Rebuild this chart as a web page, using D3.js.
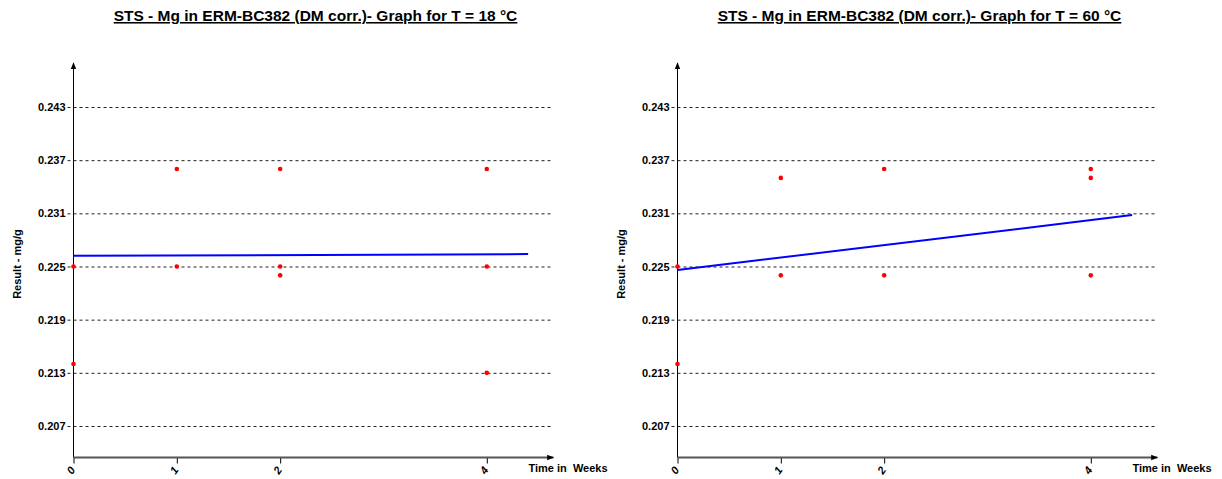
<!DOCTYPE html>
<html>

<head>
  <title>STS - Mg in ERM-BC382</title>
  <script src="https://cdn.jsdelivr.net/npm/d3@7"></script>
  <style>
    body { margin: 0; background: #fff; }
    text { font-family: Arial, 'Liberation Sans', sans-serif; }
  </style>
</head>

<body>
  <svg width="1222" height="479" id="mainsvg"></svg>

  <script>
    // data
    const weeks = [0, 1, 2, 4];
    const yTicks = [0.207, 0.213, 0.219, 0.225, 0.231, 0.237, 0.243];
    const temps = [18, 60];

    // T = 18 °C
    const t18Weeks = [0, 0, 1, 1, 2, 2, 2, 4, 4, 4];
    const t18Result = [0.225, 0.214, 0.236, 0.225, 0.236, 0.225, 0.224, 0.236, 0.225, 0.213];
    const t18FitWeeks = [0, 4.4];
    const t18FitResult = [0.2262, 0.2264];

    // T = 60 °C
    const t60Weeks = [0, 0, 1, 1, 2, 2, 4, 4, 4];
    const t60Result = [0.225, 0.214, 0.235, 0.224, 0.236, 0.224, 0.236, 0.235, 0.224];
    const t60FitWeeks = [0, 4.4];
    const t60FitResult = [0.2246, 0.2308];

    const svg = d3.select('#mainsvg');
    const panelWidth = 604;
    const originX = 73.5;   // where the y axis sits inside a panel
    const axisTop = 63;
    const axisBottomY = 457.5;

    const xScale = d3.scaleLinear().domain([0, 4]).range([0, 413.3]);
    const yScale = d3.scaleLinear().domain([0.207, 0.243]).range([426, 107]);
    const gridWidth = 478;
    const xAxisLen = 480;

    // arrow heads for the axes
    const defs = svg.append('defs');
    defs.append('marker').attr('id', 'arrow')
      .attr('viewBox', '0 0 10 10').attr('refX', 9).attr('refY', 5)
      .attr('markerWidth', 7).attr('markerHeight', 7).attr('orient', 'auto-start-reverse')
      .attr('markerUnits', 'userSpaceOnUse')
      .append('path').attr('d', 'M0,1 L10,5 L0,9 Z').attr('fill', '#000');

    function drawPanel(i, temp, pts, fit) {
      const g = svg.append('g')
        .attr('transform', `translate(${i * panelWidth + originX}, 0)`);

      // title, underlined
      g.append('text')
        .text(`STS - Mg in ERM-BC382 (DM corr.)- Graph for T = ${temp} °C`)
        .attr('x', 242).attr('y', 21)
        .attr('text-anchor', 'middle')
        .attr('font-size', '15.5px').attr('font-weight', 'bold')
        .attr('text-decoration', 'underline');

      // y axis with dashed grid lines
      const yAxis = d3.axisLeft(yScale).tickValues(yTicks)
        .tickSize(-gridWidth).tickPadding(8).tickFormat(d3.format('.3f'));
      const yg = g.append('g').call(yAxis);
      yg.select('.domain').remove();
      yg.selectAll('.tick line')
        .attr('x1', -6)
        .attr('stroke', '#222').attr('stroke-dasharray', '3,3');
      yg.selectAll('.tick text')
        .attr('font-size', '11px').attr('font-weight', 'bold').attr('fill', '#000');

      g.append('line')
        .attr('x1', 0).attr('y1', axisBottomY).attr('x2', 0).attr('y2', axisTop)
        .attr('stroke', '#000').attr('stroke-width', 1)
        .attr('marker-end', 'url(#arrow)');

      // y axis title
      g.append('text').text('Result - mg/g')
        .attr('transform', `translate(${-53}, 264) rotate(-90)`)
        .attr('text-anchor', 'middle')
        .attr('font-size', '11px').attr('font-weight', 'bold');

      // x axis
      const xAxis = d3.axisBottom(xScale).tickValues(weeks).tickSize(6).tickFormat(d3.format('d'));
      const xg = g.append('g').attr('transform', `translate(0, ${axisBottomY})`).call(xAxis);
      xg.select('.domain').remove();
      xg.selectAll('.tick line').attr('stroke', '#000');
      xg.selectAll('.tick text')
        .attr('y', 0).attr('dy', 0)
        .attr('transform', 'translate(0, 15) rotate(-55)')
        .attr('font-size', '11px').attr('font-weight', 'bold').attr('font-style', 'italic')
        .attr('fill', '#000');

      g.append('line')
        .attr('x1', 0).attr('y1', axisBottomY).attr('x2', xAxisLen).attr('y2', axisBottomY)
        .attr('stroke', '#555').attr('stroke-width', 2)
        .attr('marker-end', 'url(#arrow)');

      g.append('text').text('Time in  Weeks')
        .attr('x', 455).attr('y', 472)
        .attr('font-size', '11px').attr('font-weight', 'bold')
        .attr('xml:space', 'preserve');

      // fitted line
      const line = d3.line().x(d => xScale(d[0])).y(d => yScale(d[1]));
      g.append('path').datum(fit)
        .attr('d', line)
        .attr('fill', 'none').attr('stroke', '#0000ff').attr('stroke-width', 2);

      // measured points
      g.selectAll('.pt').data(pts).enter().append('circle')
        .attr('class', 'pt')
        .attr('cx', d => xScale(d[0])).attr('cy', d => yScale(d[1]))
        .attr('r', 2.3)
        .attr('fill', '#ff0000');
    }

    const t18Pts = t18Weeks.map((w, k) => [w, t18Result[k]]);
    const t60Pts = t60Weeks.map((w, k) => [w, t60Result[k]]);
    drawPanel(0, temps[0], t18Pts, t18FitWeeks.map((w, k) => [w, t18FitResult[k]]));
    drawPanel(1, temps[1], t60Pts, t60FitWeeks.map((w, k) => [w, t60FitResult[k]]));
  </script>
</body>

</html>
